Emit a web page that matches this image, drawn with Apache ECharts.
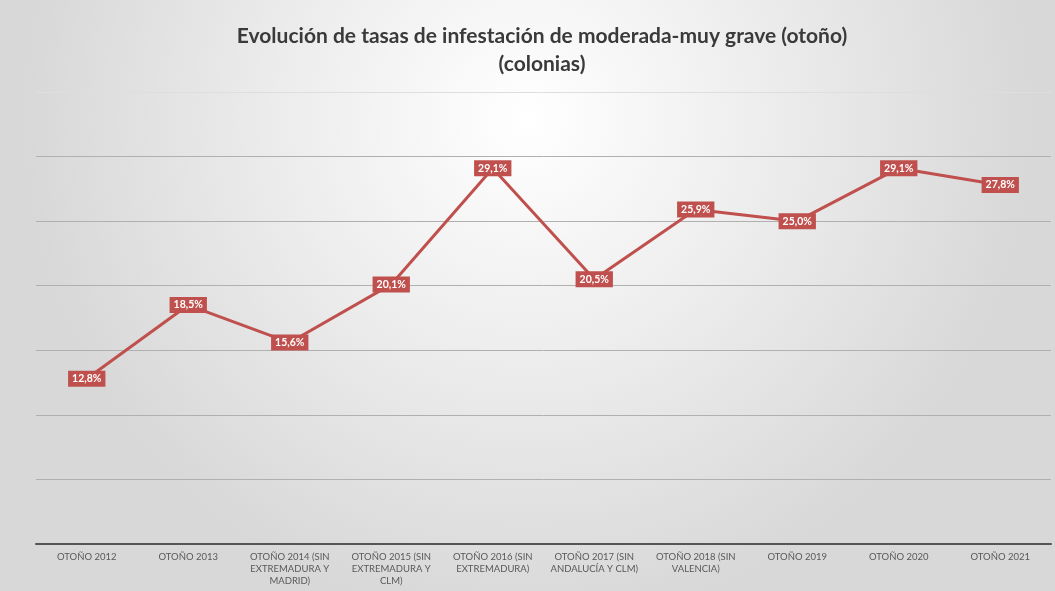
<!DOCTYPE html>
<html>
<head>
<meta charset="utf-8">
<script src="https://cdn.jsdelivr.net/npm/echarts@6/dist/echarts.min.js"></script>
<style>
  html, body { margin: 0; padding: 0; background: #ffffff; }
  #chart { width: 1055px; height: 591px; }
</style>
</head>
<body>
<div id="chart"></div>
<script>
const categories = [
  'OTOÑO 2012',
  'OTOÑO 2013',
  'OTOÑO 2014 (SIN\nEXTREMADURA Y\nMADRID)',
  'OTOÑO 2015 (SIN\nEXTREMADURA Y\nCLM)',
  'OTOÑO 2016 (SIN\nEXTREMADURA)',
  'OTOÑO 2017 (SIN\nANDALUCÍA Y CLM)',
  'OTOÑO 2018 (SIN\nVALENCIA)',
  'OTOÑO 2019',
  'OTOÑO 2020',
  'OTOÑO 2021'
]
const rates = [12.8, 18.5, 15.6, 20.1, 29.1, 20.5, 25.9, 25.0, 29.1, 27.8]
const titleLines = [
  'Evolución de tasas de infestación de moderada-muy grave (otoño)',
  '(colonias)'
]

const chart = echarts.init(document.getElementById('chart'))
chart.setOption({
  backgroundColor: {
    type: 'radial',
    x: 0.5,
    y: 0.2,
    r: 0.85,
    colorStops: [
      { offset: 0, color: '#ffffff' },
      { offset: 0.5, color: '#ececec' },
      { offset: 1, color: '#d8d8d8' }
    ]
  },
  title: {
    text: titleLines.join('\n'),
    left: 537,
    top: 17,
    textAlign: 'center',
    textStyle: {
      fontFamily: 'Lato',
      fontWeight: 'bold',
      fontSize: 21,
      lineHeight: 28,
      color: '#3a3a3a'
    }
  },
  grid: { left: 36, right: 4, top: 92, bottom: 47 },
  xAxis: {
    type: 'category',
    data: categories,
    boundaryGap: true,
    axisLine: { lineStyle: { color: '#555555', width: 2 } },
    axisTick: { show: false },
    axisLabel: {
      interval: 0,
      color: '#595959',
      fontFamily: 'Lato',
      fontSize: 9.5,
      lineHeight: 12,
      margin: 7
    }
  },
  yAxis: {
    type: 'value',
    min: 0,
    max: 35,
    interval: 5,
    axisLabel: { show: false },
    axisLine: { show: false },
    axisTick: { show: false },
    splitLine: {
      lineStyle: {
        color: ['#b0b0b0', '#b0b0b0', '#b0b0b0', '#b0b0b0', '#b0b0b0', '#b0b0b0', '#b0b0b0', '#dedede'],
        width: 1
      }
    }
  },
  series: [
    {
      type: 'line',
      data: rates,
      symbol: 'circle',
      symbolSize: 6,
      itemStyle: { color: '#c0504d' },
      lineStyle: { color: '#c0504d', width: 3 },
      label: {
        show: true,
        position: 'inside',
        formatter: p => p.value.toFixed(1).replace('.', ',') + '%',
        color: '#ffffff',
        fontFamily: 'Lato',
        fontWeight: 'bold',
        fontSize: 10.5,
        backgroundColor: '#c0504d',
        padding: [3, 4, 2, 4]
      },
      animation: false
    }
  ]
})
</script>
</body>
</html>
